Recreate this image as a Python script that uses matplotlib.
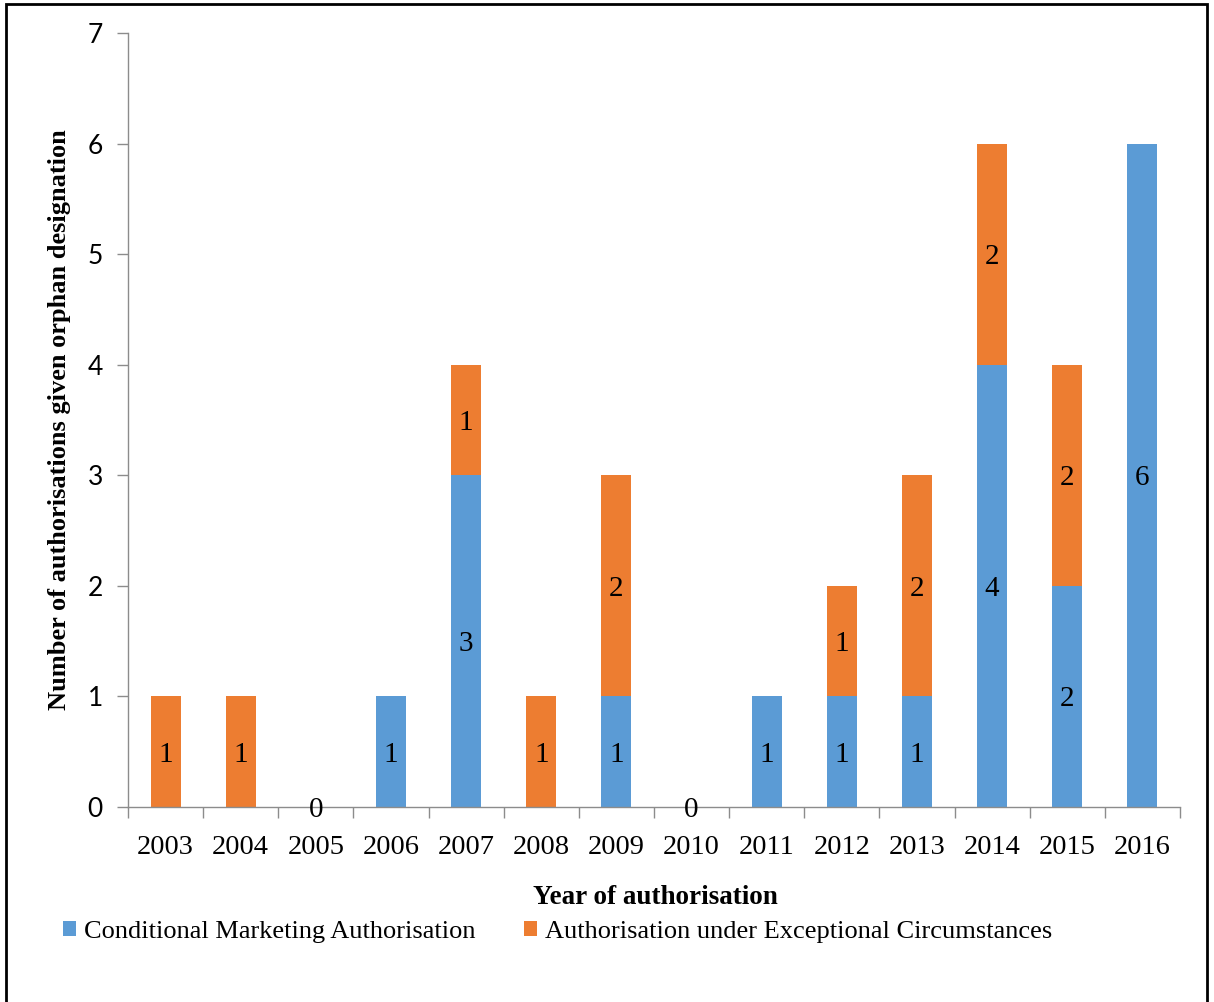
# Stacked bars: orphan authorisations by year and authorisation type

import matplotlib.pyplot as plt
from matplotlib.patches import Rectangle
import numpy as np

years = ['2003', '2004', '2005', '2006', '2007', '2008', '2009',
         '2010', '2011', '2012', '2013', '2014', '2015', '2016']
cma = [0, 0, 0, 1, 3, 0, 1, 0, 1, 1, 1, 4, 2, 6]   # Conditional Marketing Authorisation
aec = [1, 1, 0, 0, 1, 1, 2, 0, 0, 1, 2, 2, 2, 0]   # Exceptional Circumstances

blue = '#5B9BD5'
orange = '#ED7D31'
axis_grey = '#8C8C8C'
serif = 'Liberation Serif'

fig = plt.figure(figsize=(12.14, 10.02), dpi=100)
ax = fig.add_axes([128/1214, 1 - 807/1002, 1052/1214, 774/1002])

x = np.arange(len(years))
cma = np.array(cma)
aec = np.array(aec)
w = 0.4
b1 = ax.bar(x, cma, w, color=blue, linewidth=0,
            label='Conditional Marketing Authorisation')
b2 = ax.bar(x, aec, w, bottom=cma, color=orange, linewidth=0,
            label='Authorisation under Exceptional Circumstances')

# etiquetas de valor en el centro de cada segmento
lab = dict(ha='center', va='center_baseline', fontsize=21, family=serif)
for i in range(len(years)):
    if cma[i] + aec[i] == 0:
        ax.text(x[i], 0, '0', **lab)
        continue
    if cma[i] > 0:
        ax.text(x[i], cma[i] / 2, str(cma[i]), **lab)
    if aec[i] > 0:
        ax.text(x[i], cma[i] + aec[i] / 2, str(aec[i]), **lab)

ax.set_xlim(-0.5, len(years) - 0.5)
ax.set_ylim(0, 7)
ax.set_yticks(range(8))
ax.set_yticklabels([str(v) for v in range(8)], family='Lato', fontsize=19)
ax.set_xticks(x)
ax.set_xticklabels(years, family=serif, fontsize=20.5)
ax.set_xticks(np.arange(-0.5, len(years)), minor=True)
ax.tick_params(axis='x', which='major', length=0, pad=20)
ax.tick_params(axis='x', which='minor', length=8, color=axis_grey, width=1)
ax.tick_params(axis='y', length=8, color=axis_grey, width=1, pad=10)

for s in ['top', 'right']:
    ax.spines[s].set_visible(False)
for s in ['left', 'bottom']:
    ax.spines[s].set_color(axis_grey)
    ax.spines[s].set_linewidth(1)

# titulos de ejes
fig.text(60/1214, 1 - 420/1002, 'Number of authorisations given orphan designation',
         rotation=90, ha='center', va='center', fontsize=19, fontweight='bold', family=serif)
fig.text(655/1214, 1 - 898/1002, 'Year of authorisation',
         ha='center', va='center', fontsize=19.5, fontweight='bold', family=serif)

fig.legend(handles=[b1, b2], loc='center left', bbox_to_anchor=(39/1214, 1 - 932/1002),
           ncol=2, frameon=False, handlelength=0.5, handleheight=0.5, handletextpad=0.3,
           columnspacing=1.85, prop={'family': serif, 'size': 19})

# marco de la figura
fig.add_artist(Rectangle((6/1214, -0.05), 1201/1214, 1.05 - 4/1002,
                         transform=fig.transFigure, fill=False, edgecolor='black',
                         linewidth=2))

fig.savefig('out.png', dpi=100)
